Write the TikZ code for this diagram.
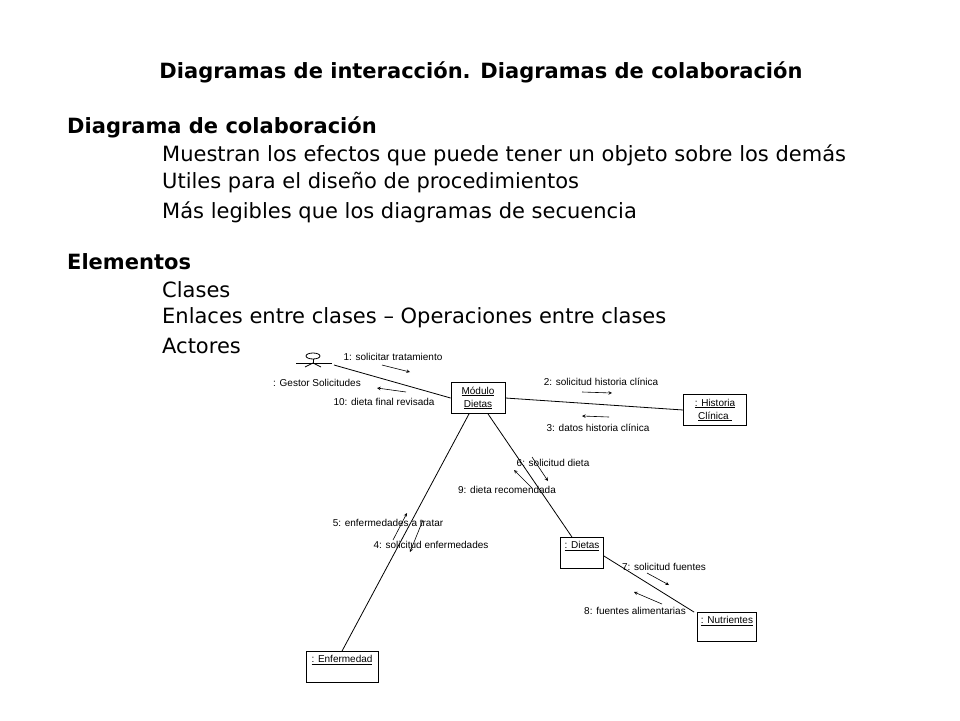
\documentclass[tikz,border=0pt]{standalone}
\usepackage{fontspec}
\setmainfont{DejaVu Sans}
\newfontfamily\smallfont{Liberation Sans}
\usetikzlibrary{positioning}

\tikzset{
  obj/.style={draw, thick, fill=white, inner sep=0pt},
  lbl/.style={font=\smallfont\fontsize{10}{11}\selectfont, inner sep=1pt},
  msg/.style={->, >=stealth, line width=0.6pt},
  txt/.style={anchor=west, inner sep=0pt, font=\fontsize{21}{24}\selectfont}
}

\begin{document}
\begin{tikzpicture}[x=1pt, y=-1pt]
    \useasboundingbox (0,0) rectangle (960,720);

    \node[font=\bfseries\fontsize{21}{24}\selectfont] (title) at (481,72) {Diagramas de interacción. Diagramas de colaboración};
    \node[txt, font=\bfseries\fontsize{21}{24}\selectfont] (sec1) at (67,127) {Diagrama de colaboración};
    \node[txt] (l1) at (162,155) {Muestran los efectos que puede tener un objeto sobre los demás};
    \node[txt] (l2) at (162,183) {Utiles para el diseño de procedimientos};
    \node[txt] (l3) at (162,212) {Más legibles que los diagramas de secuencia};
    \node[txt, font=\bfseries\fontsize{21}{24}\selectfont] (sec2) at (67,262) {Elementos};
    \node[txt] (l4) at (162,290) {Clases};
    \node[txt] (l5) at (162,318) {Enlaces entre clases -- Operaciones entre clases};
    \node[txt] (l6) at (162,346) {Actores};

    % objetos
    \node[obj, minimum width=54pt, minimum height=31pt] (mod) at (478,398) {};
    \node[obj, minimum width=63pt, minimum height=31pt] (hist) at (715,410) {};
    \node[obj, minimum width=43pt, minimum height=31pt] (diet) at (582,553) {};
    \node[obj, minimum width=59pt, minimum height=29pt] (nutr) at (727,627) {};
    \node[obj, minimum width=72pt, minimum height=31pt] (enf) at (342,667) {};
    \node[lbl, align=center] at (mod) {\underline{Módulo}\\[2pt]\underline{Dietas}};
    \node[lbl, align=center] at (hist) {\underline{: Historia}\\[2pt]\underline{Clínica\,\,}};
    \node[lbl, anchor=north] at ([yshift=-3pt]diet.north) {\underline{: Dietas}};
    \node[lbl, anchor=north] at ([yshift=-3pt]nutr.north) {\underline{: Nutrientes}};
    \node[lbl, anchor=north] at ([yshift=-3pt]enf.north) {\underline{: Enfermedad}};

    % actor
    \draw[thick] (313,356) ellipse (7pt and 3pt);
    \draw[thick] (296,363) -- (332,363);
    \draw[thick] (313,359) -- (313,363);
    \draw[thick] (305,367) -- (313,363) -- (321,367);
    \coordinate (act) at (334,365);
    \node[lbl] (gestor) at (317,383) {: Gestor Solicitudes};

    % enlaces
    \draw[thick] (act) -- (mod.west);
    \draw[thick] (mod.east) -- (hist.west);
    \draw[thick] ([xshift=-9pt]mod.south) -- (enf.north);
    \draw[thick] ([xshift=10pt]mod.south) -- ([xshift=-10pt]diet.north);
    \draw[thick] ([yshift=-3pt]diet.east) -- ([xshift=-3pt]nutr.north west);

    % mensajes
    \node[lbl] (m1) at (393,357) {1: solicitar tratamiento};
    \draw[msg] (382,365) -- (410,372);
    \node[lbl] (m10) at (384,402) {10: dieta final revisada};
    \draw[msg] (406,392) -- (377,388);
    \node[lbl] (m2) at (601,382) {2: solicitud historia clínica};
    \draw[msg] (582,392) -- (612,393);
    \node[lbl] (m3) at (598,428) {3: datos historia clínica};
    \draw[msg] (609,417) -- (582,416);
    \node[lbl] (m6) at (553,463) {6: solicitud dieta};
    \draw[msg] (532,457) -- (548,481);
    \node[lbl] (m9) at (507,490) {9: dieta recomendada};
    \draw[msg] (532,488) -- (514,470);
    \node[lbl] (m5) at (388,523) {5: enfermedades a tratar};
    \draw[msg] (393,540) -- (407,513);
    \node[lbl] (m4) at (431,545) {4: solicitud enfermedades};
    \draw[msg] (423,520) -- (410,552);
    \node[lbl] (m7) at (664,567) {7: solicitud fuentes};
    \draw[msg] (647,573) -- (669,585);
    \node[lbl] (m8) at (635,611) {8: fuentes alimentarias};
    \draw[msg] (662,604) -- (634,592);
\end{tikzpicture}
\end{document}
